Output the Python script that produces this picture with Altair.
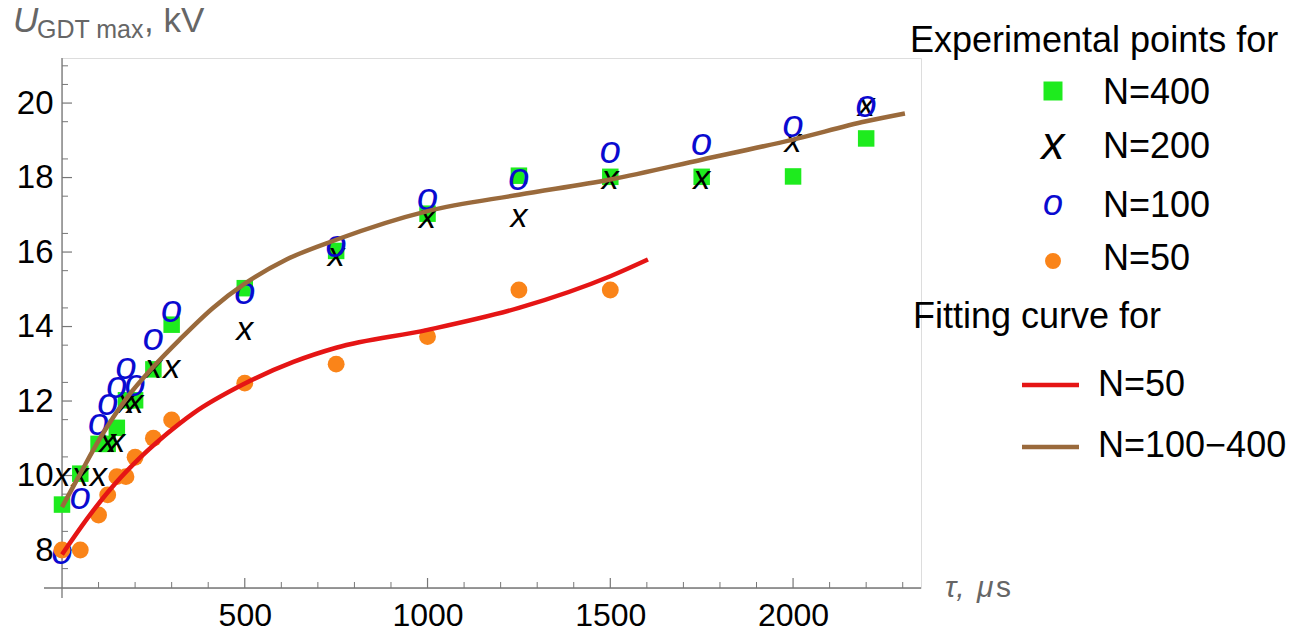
import altair as alt
import pandas as pd

# ---------------- data ----------------
t_400 = [0, 50, 100, 125, 150, 175, 200, 250, 300, 500, 750, 1000, 1250, 1500, 1750, 2000, 2200]
u_400 = [9.22, 10.05, 10.85, 10.85, 11.28, 12.02, 12.02, 12.85, 14.05, 15.03, 16.03, 17.03, 18.05, 18.02, 18.02, 18.03, 19.05]

t_200 = [0, 50, 100, 125, 150, 175, 200, 250, 300, 500, 750, 1000, 1250, 1500, 1750, 2000, 2200]
u_200 = [10.0, 10.0, 10.0, 10.9, 10.9, 11.95, 11.95, 12.9, 12.9, 13.92, 15.9, 16.92, 16.95, 17.97, 17.95, 18.95, 19.93]

t_100 = [0, 50, 100, 125, 150, 175, 200, 250, 300, 500, 750, 1000, 1250, 1500, 1750, 2000, 2200]
u_100 = [7.95, 9.43, 11.42, 11.94, 12.41, 12.92, 12.47, 13.68, 14.44, 14.94, 16.19, 17.44, 17.98, 18.71, 18.94, 19.42, 19.96]

t_50 = [0, 50, 100, 125, 150, 175, 200, 250, 300, 500, 750, 1000, 1250, 1500]
u_50 = [8.0, 8.0, 8.94, 9.48, 9.97, 9.97, 10.49, 11.0, 11.49, 12.48, 12.99, 13.73, 14.98, 14.98]

fit50_t = [0, 77, 131, 195, 287, 359, 496, 633, 750, 1000, 1250, 1500, 1603]
fit50_u = [7.88, 8.95, 9.62, 10.3, 11.12, 11.67, 12.45, 13.05, 13.43, 13.91, 14.5, 15.35, 15.8]

fitall_t = [0, 50, 104, 177, 250, 322, 413, 500, 614, 750, 1000, 1250, 1500, 1750, 2000, 2200, 2306]
fitall_u = [9.15, 10.05, 11.0, 12.08, 12.92, 13.65, 14.5, 15.15, 15.8, 16.33, 17.1, 17.54, 17.95, 18.48, 19.02, 19.51, 19.72]

x_major = [500, 1000, 1500, 2000]
x_minor = [100, 200, 300, 400, 600, 700, 800, 900, 1100, 1200, 1300, 1400,
           1600, 1700, 1800, 1900, 2100, 2200, 2300]
y_major = [8, 10, 12, 14, 16, 18, 20]
y_minor = [7.5, 8.5, 9.5, 10.5, 11.5, 12.5, 13.5, 14.5, 15.5, 16.5, 17.5,
           18.5, 19.5, 20.5, 21]

point_labels = ["N=400", "N=200", "N=100", "N=50"]
fit_labels = ["N=50", "N=100\u2212400"]
legend_head = ["Experimental points for", "Fitting curve for"]

# ---------------- styles ----------------
FONT = "Liberation Sans"
GREEN = "#1eeb1e"
BLACK = "#000000"
BLUE = "#0a0ad0"
ORANGE = "#fa8419"
RED = "#e51515"
BROWN = "#9a6a3c"
AXIS_GRAY = "#777777"
TITLE_GRAY = "#666666"

W, H = 859, 530

xscale = alt.Scale(domain=[0, 2350], nice=False, zero=False)
yscale = alt.Scale(domain=[6.98, 21.21], nice=False, zero=False)
xaxis = alt.Axis(values=x_major, format="d", title=None, ticks=False, domain=False, grid=False,
                 labelFontSize=32, labelFont=FONT, labelColor=BLACK,
                 labelPadding=12, labelFlush=False, labelOverlap=False)
yaxis = alt.Axis(values=y_major, format="d", title=None, ticks=False, domain=False, grid=False,
                 labelFontSize=33, labelFont=FONT, labelColor=BLACK,
                 labelPadding=9, labelFlush=False, labelOverlap=False)


def X(f):
    return alt.X(f, type="quantitative", scale=xscale, axis=xaxis)


def Y(f):
    return alt.Y(f, type="quantitative", scale=yscale, axis=yaxis)


one = pd.DataFrame({"a": [0]})

df400 = pd.DataFrame({"t": t_400, "u": u_400})
df200 = pd.DataFrame({"t": t_200, "u": u_200})
df100 = pd.DataFrame({"t": t_100, "u": u_100})
df50 = pd.DataFrame({"t": t_50, "u": u_50})
dfit50 = pd.DataFrame({"t": fit50_t, "u": fit50_u})
dfitall = pd.DataFrame({"t": fitall_t, "u": fitall_u})

layers = []

# axes lines
layers.append(alt.Chart(one).mark_rule(color=AXIS_GRAY, strokeWidth=1.3).encode(
    x=alt.value(-18), x2=alt.value(W), y=alt.value(H)))
layers.append(alt.Chart(one).mark_rule(color=AXIS_GRAY, strokeWidth=1.3).encode(
    x=alt.value(0), y=alt.value(0), y2=alt.value(H + 10)))

# ticks
layers.append(alt.Chart(pd.DataFrame({"t": x_major})).mark_rule(color=AXIS_GRAY, strokeWidth=1.2).encode(
    x=X("t"), y=alt.value(H), y2=alt.value(H - 10)))
layers.append(alt.Chart(pd.DataFrame({"t": x_minor})).mark_rule(color=AXIS_GRAY, strokeWidth=1.0).encode(
    x=X("t"), y=alt.value(H), y2=alt.value(H - 6)))
layers.append(alt.Chart(pd.DataFrame({"u": y_major})).mark_rule(color=AXIS_GRAY, strokeWidth=1.2).encode(
    y=Y("u"), x=alt.value(0), x2=alt.value(10)))
layers.append(alt.Chart(pd.DataFrame({"u": y_minor})).mark_rule(color=AXIS_GRAY, strokeWidth=1.0).encode(
    y=Y("u"), x=alt.value(0), x2=alt.value(6)))

# data points
layers.append(alt.Chart(df400).mark_point(shape="square", filled=True, size=272, color=GREEN, opacity=1).encode(
    x=X("t"), y=Y("u")))
layers.append(alt.Chart(df200).mark_text(text="x", font=FONT, fontStyle="italic", fontSize=34,
                                         color=BLACK, align="center", baseline="middle").encode(
    x=X("t"), y=Y("u")))
layers.append(alt.Chart(df100).mark_text(text="o", font=FONT, fontStyle="italic", fontSize=38,
                                         color=BLUE, align="center", baseline="middle", dy=1).encode(
    x=X("t"), y=Y("u")))
layers.append(alt.Chart(df50).mark_circle(size=285, color=ORANGE, opacity=1).encode(
    x=X("t"), y=Y("u")))

# fitting curves
layers.append(alt.Chart(dfit50).mark_line(color=RED, strokeWidth=4.5, interpolate="monotone").encode(
    x=X("t"), y=Y("u")))
layers.append(alt.Chart(dfitall).mark_line(color=BROWN, strokeWidth=4.5, interpolate="monotone").encode(
    x=X("t"), y=Y("u")))


def txt(s, x, y, size, color=BLACK, style="normal", baseline="alphabetic", align="left"):
    return alt.Chart(one).mark_text(text=s, font=FONT, fontSize=size, fontStyle=style,
                                    color=color, baseline=baseline, align=align).encode(
        x=alt.value(x), y=alt.value(y))


# axis titles
layers.append(txt("U", -49, -26, 35, TITLE_GRAY, "italic"))
layers.append(txt("GDT max", -25, -20, 25, TITLE_GRAY))
layers.append(txt(", kV", 82, -26, 35, TITLE_GRAY))
layers.append(txt("\u03c4,", 883, 539, 30, TITLE_GRAY, "italic"))
layers.append(txt("\u03bc", 915, 539, 30, TITLE_GRAY, "italic"))
layers.append(txt("s", 934, 539, 30, TITLE_GRAY))

# legend
LX_M, LX_T = 991, 1041
layers.append(txt(legend_head[0], 848, -6, 36))
layers.append(alt.Chart(one).mark_point(shape="square", filled=True, size=361, color=GREEN, opacity=1).encode(
    x=alt.value(LX_M), y=alt.value(33)))
layers.append(txt("x", LX_M, 87, 46, BLACK, "italic", "middle", "center"))
layers.append(txt("o", LX_M, 146, 36, BLUE, "italic", "middle", "center"))
layers.append(alt.Chart(one).mark_circle(size=254, color=ORANGE, opacity=1).encode(
    x=alt.value(LX_M), y=alt.value(203)))
for lab, yb in zip(point_labels, [46, 100, 159, 212]):
    layers.append(txt(lab, LX_T, yb, 36))

layers.append(txt(legend_head[1], 851, 270, 36))
layers.append(alt.Chart(one).mark_rule(color=RED, strokeWidth=4.5).encode(
    x=alt.value(960), x2=alt.value(1017), y=alt.value(327)))
layers.append(alt.Chart(one).mark_rule(color=BROWN, strokeWidth=4.5).encode(
    x=alt.value(960), x2=alt.value(1017), y=alt.value(389)))
for lab, yb in zip(fit_labels, [338, 399]):
    layers.append(txt(lab, 1036, yb, 36))

chart = alt.layer(*layers).properties(
    width=W, height=H,
    padding={"left": 54, "top": 50, "right": 379, "bottom": 40},
    autosize=alt.AutoSizeParams(type="none"),
).configure_view(stroke=None).configure(background="white")

chart.save("out.html", embed_options={"renderer": "svg", "actions": False})
